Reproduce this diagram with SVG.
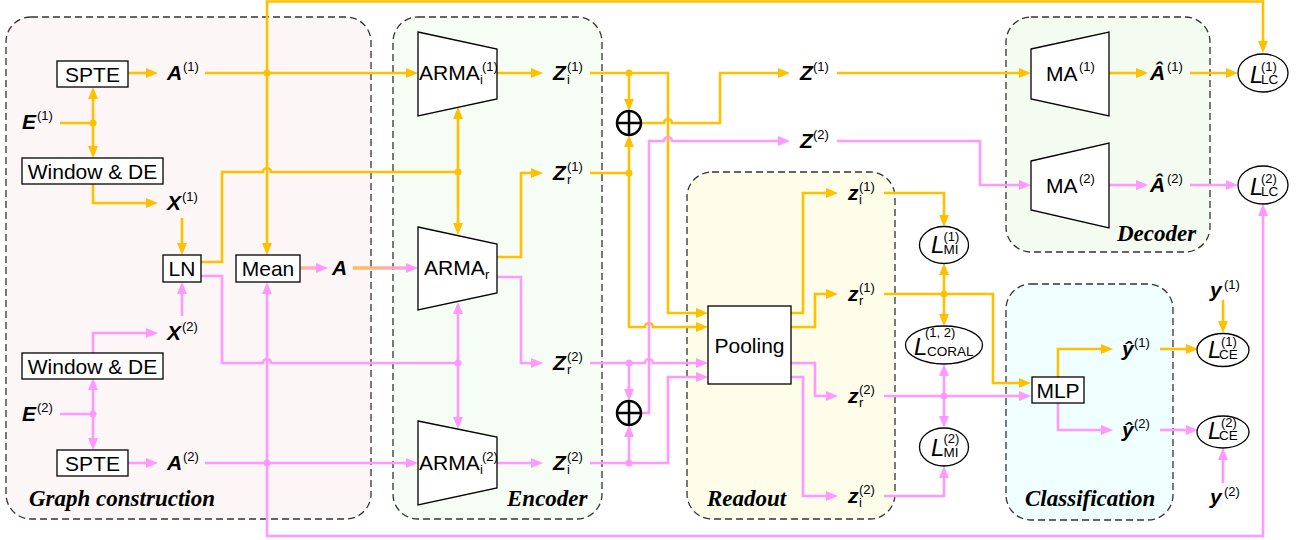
<svg xmlns="http://www.w3.org/2000/svg" width="1301" height="540" viewBox="0 0 1301 540">
<defs>
<style>
.pn{stroke:#333;stroke-width:1.3;stroke-dasharray:7 4}
.bx{fill:#fff;stroke:#000;stroke-width:1.3}
.o{fill:none;stroke:#FFC000;stroke-width:2.6}
.p{fill:none;stroke:#FF99FF;stroke-width:2.6}
.oa{marker-end:url(#ao)}
.pa{marker-end:url(#ap)}
.do{fill:#FFC000}
.dp{fill:#FF99FF}
.m{font-family:"Liberation Sans",Arial,sans-serif;font-weight:bold;font-style:italic;font-size:21px;fill:#000}
.s{font-family:"Liberation Sans",Arial,sans-serif;font-size:13px;fill:#000}
.t{font-family:"Liberation Sans",Arial,sans-serif;font-size:21px;fill:#000}
.tc{text-anchor:middle}
.ttl{font-family:"Liberation Serif","Times New Roman",serif;font-weight:bold;font-style:italic;font-size:23px;fill:#000}
.L{font-family:"Liberation Sans",Arial,sans-serif;font-style:italic;font-size:24px;fill:#000}
.ls{font-family:"Liberation Sans",Arial,sans-serif;font-size:13.5px;fill:#000}
.el{fill:#fff;stroke:#000;stroke-width:1.3}
.oplus{fill:#fff;stroke:#000;stroke-width:2.5}
</style>
<marker id="ao" viewBox="0 0 12 10" refX="3" refY="5" markerWidth="12" markerHeight="10" markerUnits="userSpaceOnUse" orient="auto-start-reverse"><path d="M0,0L12,5L0,10z" fill="#FFC000"/></marker>
<marker id="ap" viewBox="0 0 12 10" refX="3" refY="5" markerWidth="12" markerHeight="10" markerUnits="userSpaceOnUse" orient="auto-start-reverse"><path d="M0,0L12,5L0,10z" fill="#FF99FF"/></marker>
<linearGradient id="g1" gradientUnits="userSpaceOnUse" x1="300" y1="0" x2="328" y2="0"><stop offset="0" stop-color="#FFB88A"/><stop offset="1" stop-color="#FF99FF"/></linearGradient>
<linearGradient id="g2" gradientUnits="userSpaceOnUse" x1="353" y1="0" x2="418" y2="0"><stop offset="0" stop-color="#FFBF50"/><stop offset="1" stop-color="#FF99FF"/></linearGradient>
</defs>
<rect width="1301" height="540" fill="#fff"/>

<g id="panels">
<rect id="panel-graph" class="pn" x="6" y="17" width="365" height="502" rx="25" fill="#FDF6F6"/>
<rect id="panel-encoder" class="pn" x="393" y="17" width="209" height="502" rx="25" fill="#F6FDF4"/>
<rect id="panel-readout" class="pn" x="687" y="172" width="208" height="347" rx="25" fill="#FDFDE9"/>
<rect id="panel-decoder" class="pn" x="1006" y="17" width="204" height="235" rx="25" fill="#F4FBF1"/>
<rect id="panel-class" class="pn" x="1006" y="284" width="167" height="236" rx="25" fill="#EFFEFE"/>
<text class="ttl" x="29" y="506">Graph construction</text>
<text class="ttl" x="507" y="506">Encoder</text>
<text class="ttl" x="707" y="506">Readout</text>
<text class="ttl" x="1117" y="241">Decoder</text>
<text class="ttl" x="1025" y="506">Classification</text>
</g>

<g id="connectors">
<!-- orange -->
<path class="o oa" d="M267,73 V1.5 H1263 V44"/>
<path class="o oa" d="M267,73 V246"/>
<path class="o oa" d="M205,73 H409"/>
<path class="o oa" d="M128,73 H149"/>
<path class="o" d="M60,123 H93"/>
<path class="o oa" d="M93,123 V96"/>
<path class="o oa" d="M93,123 V149"/>
<path class="o oa" d="M93,184 V203 H149"/>
<path class="o oa" d="M182,218 V246"/>
<path class="o" d="M201,262 H222 V172 H263 A4,4 0 0 1 271,172 H458"/>
<path class="o oa" d="M458,172 V116"/>
<path class="o oa" d="M458,172 V226"/>
<path class="o oa" d="M497,73 H534"/>
<path class="o oa" d="M497,257 H521 V173 H534"/>
<path class="o oa" d="M590,73 H668 V313 H699"/>
<path class="o oa" d="M629,73 V102"/>
<path class="o oa" d="M590,173 H629 V327 H645 A4,4 0 0 1 653,327 H699"/>
<path class="o oa" d="M629,173 V144"/>
<path class="o oa" d="M641,123 H664 A4,4 0 0 1 672,123 H720 V73 H781"/>
<path class="o oa" d="M837,73 H1022"/>
<path class="o oa" d="M791,313 H803 V193 H829"/>
<path class="o oa" d="M791,327 H815 V294 H829"/>
<path class="o oa" d="M884,193 H944 V218"/>
<path class="o oa" d="M884,294 H993 V383 H1022"/>
<path class="o oa" d="M944,294 V272"/>
<path class="o oa" d="M944,294 V317"/>
<path class="o oa" d="M1109,73 H1139"/>
<path class="o oa" d="M1190,73 H1229"/>
<path class="o oa" d="M1058,377 V349 H1104"/>
<path class="o oa" d="M1160,349 H1189"/>
<path class="o oa" d="M1223,300 V324"/>
<circle class="do" cx="267" cy="73" r="3.5"/>
<circle class="do" cx="93" cy="123" r="3.5"/>
<circle class="do" cx="458" cy="172" r="3.5"/>
<circle class="do" cx="629" cy="73" r="3.5"/>
<circle class="do" cx="629" cy="173" r="3.5"/>
<circle class="do" cx="944" cy="294" r="3.5"/>
<!-- pink -->
<path class="p" d="M60,414 H93"/>
<path class="p pa" d="M93,414 V387"/>
<path class="p pa" d="M93,414 V441"/>
<path class="p pa" d="M93,353 V333 H149"/>
<path class="p pa" d="M182,316 V291"/>
<path class="p pa" d="M128,463 H149"/>
<path class="p pa" d="M205,463 H409"/>
<path class="p pa" d="M267,463 V536 H1263 V213"/>
<path class="p pa" d="M267,463 V291"/>
<path class="p" d="M201,276 H222 V363 H263 A4,4 0 0 1 271,363 H458"/>
<path class="p pa" d="M458,363 V311"/>
<path class="p pa" d="M458,363 V420"/>
<path class="p pa" d="M497,277 H521 V363 H534"/>
<path class="p pa" d="M497,463 H534"/>
<path class="p pa" d="M590,363 H645 A4,4 0 0 1 653,363 H699"/>
<path class="p pa" d="M629,363 V392"/>
<path class="p pa" d="M590,463 H668 V377 H699"/>
<path class="p pa" d="M629,463 V434"/>
<path class="p pa" d="M641,413 H649 V141 H664 A4,4 0 0 1 672,141 H781"/>
<path class="p pa" d="M837,141 H980 V185 H1022"/>
<path class="p pa" d="M791,363 H815 V396 H829"/>
<path class="p pa" d="M791,377 H803 V496 H829"/>
<path class="p pa" d="M884,396 H1022"/>
<path class="p pa" d="M944,396 V373"/>
<path class="p pa" d="M944,396 V419"/>
<path class="p pa" d="M884,496 H944 V475"/>
<path class="p pa" d="M1109,185 H1139"/>
<path class="p pa" d="M1190,185 H1229"/>
<path class="p pa" d="M1058,403 V430 H1104"/>
<path class="p pa" d="M1160,430 H1189"/>
<path class="p pa" d="M1223,483 V457"/>
<circle class="dp" cx="93" cy="414" r="3.5"/>
<circle class="dp" cx="267" cy="463" r="3.5"/>
<circle class="dp" cx="458" cy="363" r="3.5"/>
<circle class="dp" cx="629" cy="363" r="3.5"/>
<circle class="dp" cx="629" cy="463" r="3.5"/>
<circle class="dp" cx="944" cy="396" r="3.5"/>
<!-- gradient -->
<path d="M300,268 H319" fill="none" stroke="url(#g1)" stroke-width="3.5" marker-end="url(#ap)"/>
<path d="M353,268 H409" fill="none" stroke="url(#g2)" stroke-width="3.5" marker-end="url(#ap)"/>
</g>

<g id="spte1"><rect class="bx" x="57" y="61" width="71" height="26"/><text class="t tc" x="92.5" y="81.5">SPTE</text></g>
<g id="wde1"><rect class="bx" x="22" y="158" width="141" height="26"/><text class="t tc" x="92.5" y="178.5">Window &amp; DE</text></g>
<g id="ln"><rect class="bx" x="163" y="255" width="38" height="27"/><text class="t tc" x="182" y="276">LN</text></g>
<g id="mean"><rect class="bx" x="236" y="255" width="64" height="27"/><text class="t tc" x="268" y="276">Mean</text></g>
<g id="wde2"><rect class="bx" x="22" y="353" width="141" height="26"/><text class="t tc" x="92.5" y="373.5">Window &amp; DE</text></g>
<g id="spte2"><rect class="bx" x="57" y="450" width="71" height="26"/><text class="t tc" x="92.5" y="470.5">SPTE</text></g>

<g id="e1"><text class="m" x="22" y="129">E</text><text class="s" x="37" y="120">(1)</text></g>
<g id="a1"><text class="m" x="167" y="80">A</text><text class="s" x="183" y="71">(1)</text></g>
<g id="x1"><text class="m" x="167" y="210">X</text><text class="s" x="182" y="201">(1)</text></g>
<g id="a"><text class="m" x="332" y="275">A</text></g>
<g id="x2"><text class="m" x="167" y="340">X</text><text class="s" x="182" y="331">(2)</text></g>
<g id="e2"><text class="m" x="22" y="421">E</text><text class="s" x="37" y="412">(2)</text></g>
<g id="a2"><text class="m" x="167" y="470">A</text><text class="s" x="183" y="461">(2)</text></g>

<g id="armai1"><polygon class="bx" points="418,32 497,49 497,99 418,116"/><text class="t" x="419" y="80">ARMA</text><text class="s" x="480" y="84">i</text><text class="s" x="482" y="71">(1)</text></g>
<g id="armar"><polygon class="bx" points="418,227 497,244 497,293 418,310"/><text class="t" x="424" y="275">ARMA</text><text class="s" x="485" y="279">r</text></g>
<g id="armai2"><polygon class="bx" points="418,421 497,437 497,488 418,505"/><text class="t" x="419" y="470">ARMA</text><text class="s" x="480" y="474">i</text><text class="s" x="482" y="461">(2)</text></g>

<g id="zi1"><text class="m" x="553" y="80">Z</text><text class="s" x="567" y="71">(1)</text><text class="s" x="567" y="84">i</text></g>
<g id="zr1"><text class="m" x="553" y="180">Z</text><text class="s" x="567" y="171">(1)</text><text class="s" x="567" y="184">r</text></g>
<g id="zr2"><text class="m" x="553" y="370">Z</text><text class="s" x="567" y="361">(2)</text><text class="s" x="567" y="374">r</text></g>
<g id="zi2"><text class="m" x="553" y="470">Z</text><text class="s" x="567" y="461">(2)</text><text class="s" x="567" y="474">i</text></g>

<g id="oplus1"><circle class="oplus" cx="629" cy="123" r="12"/><path d="M617,123H641M629,111V135" stroke="#000" stroke-width="2.5"/></g>
<g id="oplus2"><circle class="oplus" cx="629" cy="413" r="12"/><path d="M617,413H641M629,401V425" stroke="#000" stroke-width="2.5"/></g>

<g id="z1"><text class="m" x="800" y="80">Z</text><text class="s" x="813" y="71">(1)</text></g>
<g id="z2"><text class="m" x="800" y="148">Z</text><text class="s" x="813" y="139">(2)</text></g>

<g id="pooling"><rect class="bx" x="708" y="306" width="83" height="78"/><text class="t tc" x="749.5" y="352.5">Pooling</text></g>
<g id="lzi1"><text class="m" x="848" y="200">z</text><text class="s" x="859" y="191">(1)</text><text class="s" x="859" y="204">i</text></g>
<g id="lzr1"><text class="m" x="848" y="301">z</text><text class="s" x="859" y="292">(1)</text><text class="s" x="859" y="305">r</text></g>
<g id="lzr2"><text class="m" x="848" y="403">z</text><text class="s" x="859" y="394">(2)</text><text class="s" x="859" y="407">r</text></g>
<g id="lzi2"><text class="m" x="848" y="503">z</text><text class="s" x="859" y="494">(2)</text><text class="s" x="859" y="507">i</text></g>

<g id="lmi1"><ellipse class="el" cx="944" cy="245" rx="24.5" ry="18.5"/><text class="L" x="931" y="253">L</text><text class="ls" x="943.5" y="254">MI</text><text class="s" x="943.5" y="241">(1)</text></g>
<g id="lcoral"><ellipse class="el" cx="944" cy="345" rx="38.5" ry="19"/><text class="L" x="914" y="355">L</text><text class="ls" x="927" y="355.5">CORAL</text><text class="s" x="925" y="337">(1, 2)</text></g>
<g id="lmi2"><ellipse class="el" cx="944" cy="447" rx="24.5" ry="19"/><text class="L" x="931" y="456">L</text><text class="ls" x="943.5" y="456.5">MI</text><text class="s" x="943.5" y="443">(2)</text></g>

<g id="ma1"><polygon class="bx" points="1031,49 1109,32 1109,116 1031,99"/><text class="t" x="1046" y="81">MA</text><text class="s" x="1079" y="71">(1)</text></g>
<g id="ma2"><polygon class="bx" points="1031,161 1109,143 1109,228 1031,210"/><text class="t" x="1046" y="193">MA</text><text class="s" x="1079" y="183">(2)</text></g>
<g id="ahat1"><text class="m" x="1150" y="80">Â</text><text class="s" x="1167" y="71">(1)</text></g>
<g id="ahat2"><text class="m" x="1150" y="192">Â</text><text class="s" x="1167" y="183">(2)</text></g>
<g id="llc1"><ellipse class="el" cx="1263" cy="73" rx="25" ry="19"/><text class="L" x="1250" y="83">L</text><text class="ls" x="1261" y="83.5">LC</text><text class="s" x="1261" y="71">(1)</text></g>
<g id="llc2"><ellipse class="el" cx="1263" cy="185" rx="25" ry="19"/><text class="L" x="1250" y="195">L</text><text class="ls" x="1261" y="195.5">LC</text><text class="s" x="1261" y="183">(2)</text></g>

<g id="mlp"><rect class="bx" x="1032" y="377" width="52" height="26"/><text class="t tc" x="1058" y="397.5">MLP</text></g>
<g id="yhat1"><text class="m" x="1122" y="356">ŷ</text><text class="s" x="1134" y="347">(1)</text></g>
<g id="yhat2"><text class="m" x="1122" y="437">ŷ</text><text class="s" x="1134" y="428">(2)</text></g>
<g id="lce1"><ellipse class="el" cx="1223" cy="350" rx="26" ry="16.5"/><text class="L" x="1208" y="358">L</text><text class="ls" x="1219" y="358.5">CE</text><text class="s" x="1221" y="346">(1)</text></g>
<g id="lce2"><ellipse class="el" cx="1223" cy="432" rx="26" ry="16"/><text class="L" x="1208" y="439">L</text><text class="ls" x="1219" y="439.5">CE</text><text class="s" x="1221" y="427">(2)</text></g>
<g id="y1"><text class="m" x="1210" y="297">y</text><text class="s" x="1224" y="289">(1)</text></g>
<g id="y2"><text class="m" x="1210" y="504">y</text><text class="s" x="1224" y="496">(2)</text></g>
</svg>
